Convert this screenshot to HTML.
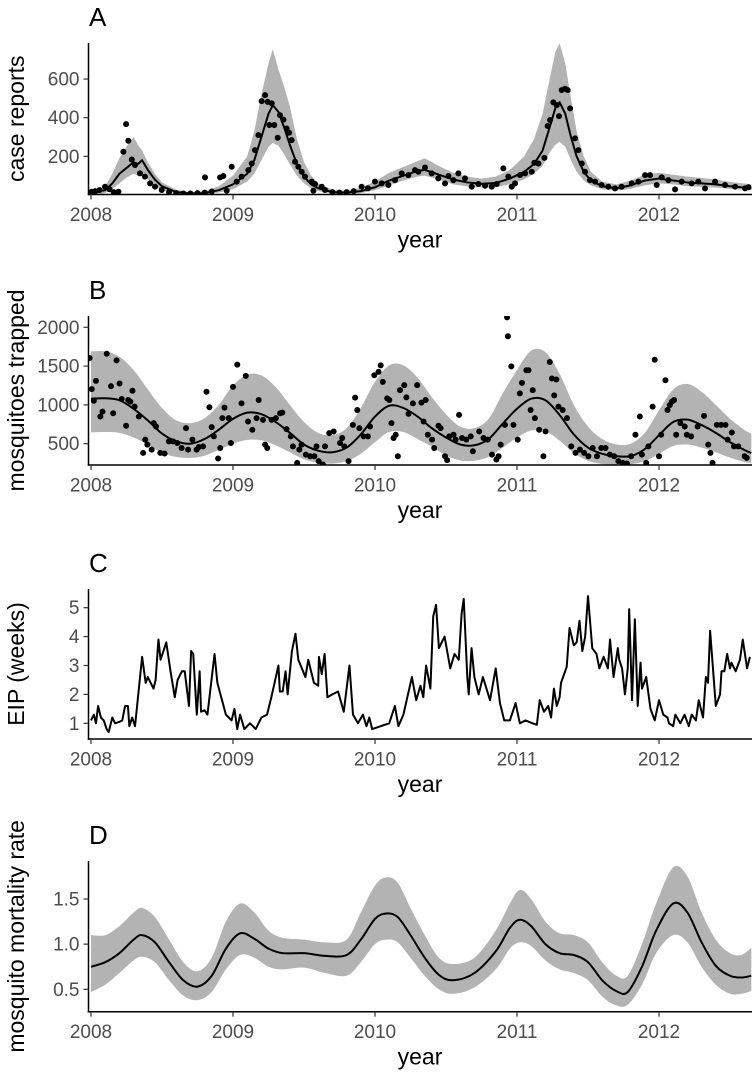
<!DOCTYPE html>
<html><head><meta charset="utf-8"><style>
html,body{margin:0;padding:0;background:#fff;}
svg{display:block;font-family:"Liberation Sans",Arial,sans-serif;}
</style></head><body>
<svg id="chart" width="756" height="1074" viewBox="0 0 756 1074" xmlns="http://www.w3.org/2000/svg"></svg>
<script>
// ---------- DATA ----------
const yearTicks = [2008, 2009, 2010, 2011, 2012];

// Panel A: case reports
const tA = [2008.0,2008.1,2008.15,2008.2,2008.25,2008.3,2008.33,2008.36,2008.4,2008.45,2008.5,2008.6,2008.7,2008.8,2008.9,2009.0,2009.1,2009.15,2009.2,2009.25,2009.28,2009.32,2009.36,2009.4,2009.45,2009.5,2009.55,2009.6,2009.7,2009.8,2009.9,2010.0,2010.1,2010.2,2010.3,2010.35,2010.45,2010.55,2010.65,2010.75,2010.85,2010.95,2011.05,2011.12,2011.18,2011.23,2011.27,2011.3,2011.34,2011.38,2011.42,2011.47,2011.52,2011.6,2011.7,2011.8,2011.9,2012.0,2012.1,2012.2,2012.3,2012.4,2012.5,2012.65];
const lineA = [10,25,60,110,140,170,160,180,130,80,45,15,8,10,25,55,110,180,300,420,465,430,350,260,160,95,55,35,15,12,20,40,75,100,125,130,105,80,65,58,62,85,120,160,230,350,450,480,420,300,200,120,75,45,35,50,75,85,75,65,60,55,45,35];
const loA = [2,10,30,60,90,110,100,110,80,45,25,8,3,5,12,30,70,110,180,250,270,255,210,160,100,60,35,20,8,6,10,25,50,75,95,100,80,55,45,40,40,55,80,110,150,220,260,275,250,180,120,75,50,30,22,32,50,60,55,45,42,38,32,24];
const hiA = [20,45,110,190,250,300,260,230,170,110,65,28,15,20,45,100,200,330,520,680,755,650,560,460,290,170,100,60,28,22,38,70,115,145,175,190,150,115,95,85,95,130,200,290,420,600,740,786,680,500,330,200,120,70,55,75,105,115,105,95,88,80,68,55];
const ptsA = [[2008.005,17],[2008.03,20],[2008.06,25],[2008.099,43],[2008.13,30],[2008.16,15],[2008.193,17],[2008.228,224],[2008.247,367],[2008.263,281],[2008.287,184],[2008.31,155],[2008.345,112],[2008.38,95],[2008.416,60],[2008.451,43],[2008.498,26],[2008.55,15],[2008.6,10],[2008.65,8],[2008.7,8],[2008.75,10],[2008.8,12],[2008.803,91],[2008.85,18],[2008.909,91],[2008.932,98],[2008.956,22],[2008.991,146],[2009.026,69],[2009.061,95],[2009.108,129],[2009.132,163],[2009.155,232],[2009.179,310],[2009.202,486],[2009.226,517],[2009.244,482],[2009.256,362],[2009.273,474],[2009.291,362],[2009.315,296],[2009.331,413],[2009.355,390],[2009.378,344],[2009.395,322],[2009.413,284],[2009.437,172],[2009.46,146],[2009.484,120],[2009.507,95],[2009.554,69],[2009.566,22],[2009.578,57],[2009.625,43],[2009.648,26],[2009.7,15],[2009.75,12],[2009.8,15],[2009.85,20],[2009.906,43],[2009.95,35],[2010.0,69],[2010.047,60],[2010.094,52],[2010.141,77],[2010.188,112],[2010.235,103],[2010.282,129],[2010.305,120],[2010.352,142],[2010.399,112],[2010.446,86],[2010.493,60],[2010.517,98],[2010.552,77],[2010.587,112],[2010.634,86],[2010.681,43],[2010.728,57],[2010.775,48],[2010.822,43],[2010.857,57],[2010.904,138],[2010.939,95],[2010.963,43],[2010.986,60],[2011.021,103],[2011.057,112],[2011.104,120],[2011.122,167],[2011.151,163],[2011.193,192],[2011.216,357],[2011.233,388],[2011.256,479],[2011.28,465],[2011.296,408],[2011.315,543],[2011.338,550],[2011.357,543],[2011.374,448],[2011.409,293],[2011.432,232],[2011.456,163],[2011.479,120],[2011.514,77],[2011.55,69],[2011.596,52],[2011.643,43],[2011.69,34],[2011.737,43],[2011.808,60],[2011.855,69],[2011.902,103],[2011.937,103],[2011.984,52],[2012.019,91],[2012.066,77],[2012.113,29],[2012.16,69],[2012.23,60],[2012.277,69],[2012.324,34],[2012.395,69],[2012.465,52],[2012.536,43],[2012.606,34],[2012.63,40]];
const ticksA = [200,400,600];

// Panel B: mosquitoes trapped
const tB = [2008.0,2008.1,2008.2,2008.3,2008.4,2008.5,2008.6,2008.7,2008.8,2008.9,2009.0,2009.1,2009.2,2009.3,2009.4,2009.5,2009.6,2009.7,2009.8,2009.9,2010.0,2010.1,2010.2,2010.3,2010.4,2010.5,2010.6,2010.7,2010.8,2010.9,2011.0,2011.1,2011.2,2011.3,2011.4,2011.5,2011.6,2011.7,2011.8,2011.9,2012.0,2012.1,2012.2,2012.3,2012.4,2012.5,2012.6,2012.65];
const lineB = [1080,1085,1060,950,800,630,530,500,560,680,820,900,880,780,640,490,410,390,450,620,850,990,960,850,700,580,490,480,560,760,950,1080,1060,870,620,450,370,340,340,430,610,780,810,740,640,520,420,380];
const hiB = [1690,1690,1620,1450,1200,960,800,765,830,1000,1250,1390,1380,1230,1000,780,640,610,700,960,1300,1510,1510,1350,1100,880,720,700,820,1150,1450,1700,1680,1400,1000,720,560,490,500,640,930,1200,1270,1170,1000,820,680,630];
const loB = [645,650,640,580,490,380,330,317,345,420,500,550,545,480,390,300,255,245,275,370,520,650,650,560,460,350,285,280,330,450,580,670,660,540,380,280,240,232,235,275,370,470,490,450,390,320,265,253];
const ptsB = [[2007.99,1604],[2008.005,1203],[2008.035,1310],[2008.02,1054],[2008.066,850],[2008.081,914],[2008.111,1659],[2008.141,1242],[2008.156,892],[2008.18,1574],[2008.201,1276],[2008.216,1076],[2008.247,731],[2008.262,1063],[2008.277,1042],[2008.292,1182],[2008.307,978],[2008.337,850],[2008.367,381],[2008.382,552],[2008.397,488],[2008.427,424],[2008.442,765],[2008.458,722],[2008.488,381],[2008.518,373],[2008.548,530],[2008.578,530],[2008.608,509],[2008.638,445],[2008.669,701],[2008.684,424],[2008.714,552],[2008.744,424],[2008.759,458],[2008.789,466],[2008.813,1169],[2008.834,969],[2008.85,714],[2008.865,594],[2008.895,309],[2008.91,445],[2008.925,829],[2008.94,965],[2008.97,829],[2008.985,509],[2009.0,1233],[2009.03,1519],[2009.06,1020],[2009.09,1374],[2009.106,786],[2009.136,679],[2009.166,829],[2009.181,1063],[2009.211,807],[2009.226,488],[2009.241,445],[2009.272,807],[2009.302,829],[2009.332,892],[2009.347,901],[2009.377,688],[2009.407,594],[2009.422,466],[2009.452,253],[2009.467,424],[2009.483,488],[2009.513,360],[2009.543,339],[2009.573,339],[2009.588,466],[2009.603,275],[2009.633,232],[2009.648,466],[2009.678,637],[2009.709,658],[2009.754,509],[2009.769,573],[2009.784,466],[2009.814,275],[2009.844,743],[2009.86,1093],[2009.875,935],[2009.89,701],[2009.92,594],[2009.95,594],[2009.965,722],[2009.995,1382],[2010.025,1425],[2010.04,1510],[2010.055,1297],[2010.086,1084],[2010.101,1063],[2010.116,765],[2010.131,573],[2010.146,616],[2010.161,339],[2010.176,1191],[2010.206,1255],[2010.221,1097],[2010.236,884],[2010.267,1020],[2010.297,1255],[2010.327,1029],[2010.342,786],[2010.357,1063],[2010.372,616],[2010.402,552],[2010.417,445],[2010.447,731],[2010.462,701],[2010.493,339],[2010.508,288],[2010.523,594],[2010.553,616],[2010.568,552],[2010.592,871],[2010.613,573],[2010.643,552],[2010.674,594],[2010.689,403],[2010.734,658],[2010.764,573],[2010.794,552],[2010.824,360],[2010.855,296],[2010.87,339],[2010.885,488],[2010.915,743],[2010.93,2128],[2010.936,1885],[2010.96,1497],[2010.975,743],[2011.005,552],[2011.02,1148],[2011.035,1284],[2011.066,1446],[2011.081,1446],[2011.096,935],[2011.111,1191],[2011.126,829],[2011.156,679],[2011.186,339],[2011.201,658],[2011.231,1553],[2011.246,1340],[2011.277,1327],[2011.262,1122],[2011.292,978],[2011.322,935],[2011.352,829],[2011.382,466],[2011.412,381],[2011.443,424],[2011.473,381],[2011.503,339],[2011.533,445],[2011.563,339],[2011.593,445],[2011.623,445],[2011.654,360],[2011.684,339],[2011.714,275],[2011.744,253],[2011.774,245],[2011.804,339],[2011.834,616],[2011.865,850],[2011.88,360],[2011.91,253],[2011.925,466],[2011.955,978],[2011.97,1582],[2012.0,339],[2012.015,616],[2012.045,1318],[2012.06,935],[2012.076,999],[2012.091,1042],[2012.106,1063],[2012.121,616],[2012.151,765],[2012.181,722],[2012.196,616],[2012.226,594],[2012.272,722],[2012.317,858],[2012.347,488],[2012.362,381],[2012.377,253],[2012.407,743],[2012.437,743],[2012.468,743],[2012.483,552],[2012.513,645],[2012.528,466],[2012.558,466],[2012.603,339],[2012.618,318]];
const ticksB = [500,1000,1500,2000];

// Panel C: EIP (weeks)
const seriesC = [[2008.0,1.1],[2008.02,1.3],[2008.035,1.0],[2008.05,1.6],[2008.07,1.2],[2008.09,1.1],[2008.11,0.8],[2008.125,0.7],[2008.15,1.2],[2008.17,1.0],[2008.2,1.05],[2008.22,1.1],[2008.24,1.6],[2008.26,1.6],[2008.27,0.9],[2008.29,1.2],[2008.31,0.9],[2008.36,3.3],[2008.385,2.4],[2008.4,2.6],[2008.44,2.2],[2008.455,2.5],[2008.475,3.9],[2008.49,3.2],[2008.53,3.8],[2008.56,2.8],[2008.59,1.9],[2008.61,2.5],[2008.64,2.8],[2008.66,2.8],[2008.69,1.6],[2008.705,3.5],[2008.72,3.4],[2008.745,1.3],[2008.765,2.8],[2008.775,1.4],[2008.8,1.45],[2008.82,1.3],[2008.87,3.4],[2008.89,2.4],[2008.95,1.3],[2008.99,1.1],[2009.01,1.5],[2009.03,0.8],[2009.05,1.3],[2009.08,0.8],[2009.12,1.0],[2009.16,0.8],[2009.2,1.2],[2009.24,1.3],[2009.27,1.9],[2009.32,3.0],[2009.33,2.1],[2009.35,2.1],[2009.37,2.8],[2009.385,2.0],[2009.415,3.5],[2009.44,4.1],[2009.46,3.2],[2009.51,2.6],[2009.53,3.2],[2009.57,2.4],[2009.6,2.3],[2009.605,3.3],[2009.625,2.7],[2009.645,3.4],[2009.665,1.9],[2009.7,2.0],[2009.74,2.1],[2009.78,1.4],[2009.82,3.0],[2009.845,1.3],[2009.88,1.0],[2009.915,1.3],[2009.94,0.9],[2009.96,1.2],[2009.98,0.8],[2010.04,0.9],[2010.1,1.0],[2010.14,1.6],[2010.165,0.9],[2010.2,1.3],[2010.26,2.6],[2010.29,1.8],[2010.32,2.3],[2010.34,1.9],[2010.36,3.0],[2010.39,2.2],[2010.41,4.7],[2010.43,5.1],[2010.45,3.6],[2010.49,4.0],[2010.53,2.9],[2010.56,3.4],[2010.59,3.2],[2010.61,4.8],[2010.625,5.3],[2010.65,2.6],[2010.66,2.0],[2010.68,3.6],[2010.7,2.6],[2010.73,2.0],[2010.76,2.6],[2010.81,1.8],[2010.85,2.9],[2010.88,1.7],[2010.91,1.1],[2010.95,1.1],[2010.99,1.7],[2011.02,1.0],[2011.06,1.1],[2011.11,1.0],[2011.14,0.95],[2011.16,1.8],[2011.19,1.4],[2011.22,1.6],[2011.24,1.2],[2011.26,2.2],[2011.28,1.6],[2011.3,1.9],[2011.31,2.4],[2011.35,2.95],[2011.37,4.3],[2011.4,3.7],[2011.42,3.8],[2011.44,4.55],[2011.46,3.5],[2011.48,4.0],[2011.5,5.4],[2011.53,3.6],[2011.56,3.4],[2011.58,2.9],[2011.61,3.3],[2011.64,2.9],[2011.655,3.9],[2011.68,2.6],[2011.71,3.6],[2011.72,3.2],[2011.74,2.9],[2011.76,2.0],[2011.78,2.9],[2011.79,4.95],[2011.81,1.8],[2011.83,4.6],[2011.85,1.6],[2011.87,3.1],[2011.88,2.2],[2011.91,2.6],[2011.94,1.5],[2011.97,1.1],[2012.0,1.8],[2012.03,1.3],[2012.06,1.2],[2012.07,1.0],[2012.1,0.9],[2012.115,1.3],[2012.15,1.0],[2012.18,1.3],[2012.21,0.9],[2012.23,1.3],[2012.26,1.1],[2012.28,1.8],[2012.31,1.2],[2012.33,2.6],[2012.345,2.4],[2012.36,4.2],[2012.4,1.6],[2012.43,2.0],[2012.44,2.8],[2012.46,2.8],[2012.48,3.4],[2012.5,2.9],[2012.51,3.1],[2012.54,2.8],[2012.57,3.2],[2012.59,3.9],[2012.62,2.9],[2012.64,3.3]];
const ticksC = [1,2,3,4,5];

// Panel D: mosquito mortality rate
const tD = [2008.0,2008.1,2008.2,2008.3,2008.36,2008.45,2008.55,2008.65,2008.75,2008.85,2008.95,2009.05,2009.15,2009.25,2009.35,2009.5,2009.65,2009.8,2009.9,2010.0,2010.08,2010.16,2010.25,2010.35,2010.45,2010.55,2010.7,2010.85,2010.95,2011.02,2011.1,2011.2,2011.3,2011.4,2011.5,2011.6,2011.7,2011.78,2011.88,2011.98,2012.1,2012.2,2012.3,2012.4,2012.5,2012.58,2012.65];
const lineD = [0.75,0.80,0.90,1.05,1.10,1.02,0.80,0.60,0.53,0.65,0.95,1.12,1.06,0.95,0.90,0.90,0.87,0.88,1.05,1.28,1.34,1.30,1.10,0.85,0.66,0.60,0.68,0.92,1.18,1.27,1.20,1.00,0.90,0.88,0.80,0.60,0.48,0.47,0.75,1.15,1.45,1.35,1.02,0.76,0.65,0.63,0.65];
const loD = [0.47,0.55,0.68,0.82,0.86,0.80,0.60,0.43,0.38,0.47,0.72,0.88,0.85,0.75,0.72,0.74,0.68,0.65,0.80,1.00,1.05,1.02,0.85,0.65,0.50,0.45,0.52,0.72,0.95,1.02,0.98,0.82,0.72,0.68,0.60,0.42,0.32,0.33,0.55,0.90,1.10,1.02,0.75,0.55,0.45,0.45,0.48];
const hiD = [1.10,1.10,1.20,1.35,1.40,1.30,1.05,0.80,0.70,0.85,1.25,1.45,1.35,1.15,1.07,1.05,1.02,1.05,1.35,1.65,1.74,1.68,1.40,1.10,0.85,0.78,0.85,1.15,1.45,1.60,1.50,1.25,1.12,1.10,1.02,0.80,0.65,0.65,1.00,1.45,1.85,1.75,1.35,1.05,0.90,0.88,0.96];
const ticksD = [0.5,1.0,1.5];
const ticksDLabels = ["0.5","1.0","1.5"];

// ---------- DRAWING ----------
const NS = "http://www.w3.org/2000/svg";
const svg = document.getElementById('chart');
const X0 = 88.5, X1 = 752;
function xs(t){ return 91 + (t - 2008) * 142; }
function mk(tag, attrs, parent){
  const e = document.createElementNS(NS, tag);
  for (const k in attrs) e.setAttribute(k, attrs[k]);
  (parent || svg).appendChild(e);
  return e;
}
function pts(ts, vs, ys){ return ts.map((t,i)=>[xs(t), ys(vs[i])]); }
function linear(p, start){
  return p.map((q,i)=>((i||!start)?'L':'M')+q[0].toFixed(2)+','+q[1].toFixed(2)).join('');
}
function smooth(p, start){
  let d = (start ? 'M' : 'L') + p[0][0].toFixed(2)+','+p[0][1].toFixed(2);
  for (let i = 0; i < p.length-1; i++){
    const p0 = p[Math.max(0,i-1)], p1 = p[i], p2 = p[i+1], p3 = p[Math.min(p.length-1,i+2)];
    const c1 = [p1[0]+(p2[0]-p0[0])/6, p1[1]+(p2[1]-p0[1])/6];
    const c2 = [p2[0]-(p3[0]-p1[0])/6, p2[1]-(p3[1]-p1[1])/6];
    d += 'C'+c1[0].toFixed(2)+','+c1[1].toFixed(2)+' '+c2[0].toFixed(2)+','+c2[1].toFixed(2)+' '+p2[0].toFixed(2)+','+p2[1].toFixed(2);
  }
  return d;
}
function pathFrom(ts, vs, ys, sm){
  const p = pts(ts, vs, ys);
  return sm ? smooth(p, true) : linear(p, true);
}
function bandPath(ts, lo, hi, ys, sm){
  const ph = pts(ts, hi, ys), pl = pts(ts, lo, ys).reverse();
  const f = sm ? smooth : linear;
  return f(ph, true) + f(pl, false) + 'Z';
}

function panel(cfg){
  const g = mk('g', {});
  
  
  const cid = 'clip-' + cfg.letter;
  const cp = mk('clipPath', {id: cid}, g);
  mk('rect', {x: X0, y: cfg.top, width: X1 - X0, height: cfg.bottom - cfg.top}, cp);
  const plot = mk('g', {'clip-path': 'url(#'+cid+')'}, g);
  
  
  cfg.draw(plot);
  const ya = mk('line', {x1: X0, y1: cfg.top, x2: X0, y2: cfg.bottom + 0.75, stroke: '#000', 'stroke-width': 1.5}, g);
  
  
  cfg.ticks.forEach((v, i) => {
    const y = cfg.ys(v);
    const tk = mk('line', {x1: X0 - 5, y1: y, x2: X0, y2: y, stroke: '#333', 'stroke-width': 1.2}, g);
    
    
    const tl = mk('text', {x: X0 - 9, y: y + 6.5, 'text-anchor': 'end', 'font-size': 19, fill: '#4d4d4d'}, g);
    
    
    tl.textContent = cfg.tickLabels ? cfg.tickLabels[i] : String(v);
  });
  const xa = mk('line', {x1: X0 - 0.75, y1: cfg.bottom, x2: X1, y2: cfg.bottom, stroke: '#000', 'stroke-width': 1.5}, g);
  
  
  yearTicks.forEach(t => {
    const x = xs(t);
    const tk = mk('line', {x1: x, y1: cfg.bottom, x2: x, y2: cfg.bottom + 5, stroke: '#333', 'stroke-width': 1.2}, g);
    
    
    const tl = mk('text', {x: x, y: cfg.bottom + 26.5, 'text-anchor': 'middle', 'font-size': 19, fill: '#4d4d4d'}, g);
    
    
    tl.textContent = String(t);
  });
  const xt = mk('text', {x: 420, y: cfg.bottom + 53, 'text-anchor': 'middle', 'font-size': 23, fill: '#000'}, g);
  
  
  xt.textContent = 'year';
  const cy = (cfg.top + cfg.bottom) / 2;
  const yt = mk('text', {x: 0, y: 0, 'text-anchor': 'middle', 'font-size': 23, fill: '#000', transform: 'translate('+cfg.ytx+','+cy+') rotate(-90)'}, g);
  
  
  yt.textContent = cfg.ytitle;
  const lt = mk('text', {x: 89, y: cfg.top - 17, 'font-size': 26, fill: '#000'}, g);
  
  
  lt.textContent = cfg.letter;
}

const BAND = '#b3b3b3';

// A
const ysA = v => 195 - v * 0.19325;
panel({name: 'panel-a-case-reports', letter: 'A', top: 43, bottom: 194.5, ys: ysA, ticks: ticksA, ytitle: 'case reports', ytx: 24,
  draw: p => {
    const b = mk('path', {d: bandPath(tA, loA, hiA, ysA, false), fill: BAND}, p);
    
    
    const l = mk('path', {d: pathFrom(tA, lineA, ysA, false), fill: 'none', stroke: '#000', 'stroke-width': 2, 'stroke-linejoin': 'round'}, p);
    
    
    ptsA.forEach(d => {
      const c = mk('circle', {cx: xs(d[0]), cy: ysA(d[1]), r: 3, fill: '#000'}, p);
      
      
    });
  }});

// B
const ysB = v => 443.7 - (v - 500) * 0.0776;
panel({name: 'panel-b-mosquitoes-trapped', letter: 'B', top: 316, bottom: 465, ys: ysB, ticks: ticksB, ytitle: 'mosquitoes trapped', ytx: 24,
  draw: p => {
    const b = mk('path', {d: bandPath(tB, loB, hiB, ysB, true), fill: BAND}, p);
    
    
    const l = mk('path', {d: pathFrom(tB, lineB, ysB, true), fill: 'none', stroke: '#000', 'stroke-width': 2, 'stroke-linejoin': 'round'}, p);
    
    
    ptsB.forEach(d => {
      const c = mk('circle', {cx: xs(d[0]), cy: ysB(d[1]), r: 3, fill: '#000'}, p);
      
      
    });
  }});

// C
const ysC = v => 723.3 - (v - 1) * 28.9;
panel({name: 'panel-c-eip', letter: 'C', top: 589, bottom: 739, ys: ysC, ticks: ticksC, ytitle: 'EIP (weeks)', ytx: 24,
  draw: p => {
    const l = mk('path', {d: pathFrom(seriesC.map(d=>d[0]), seriesC.map(d=>d[1]), ysC, false), fill: 'none', stroke: '#000', 'stroke-width': 2, 'stroke-linejoin': 'round'}, p);
    
    
  }});

// D
const ysD = v => 989.3 - (v - 0.5) * 90.3;
panel({name: 'panel-d-mortality-rate', letter: 'D', top: 861, bottom: 1011.7, ys: ysD, ticks: ticksD, tickLabels: ticksDLabels, ytitle: 'mosquito mortality rate', ytx: 24,
  draw: p => {
    const b = mk('path', {d: bandPath(tD, loD, hiD, ysD, true), fill: BAND}, p);
    
    
    const l = mk('path', {d: pathFrom(tD, lineD, ysD, true), fill: 'none', stroke: '#000', 'stroke-width': 2, 'stroke-linejoin': 'round'}, p);
    
    
  }});
</script>
</body></html>
